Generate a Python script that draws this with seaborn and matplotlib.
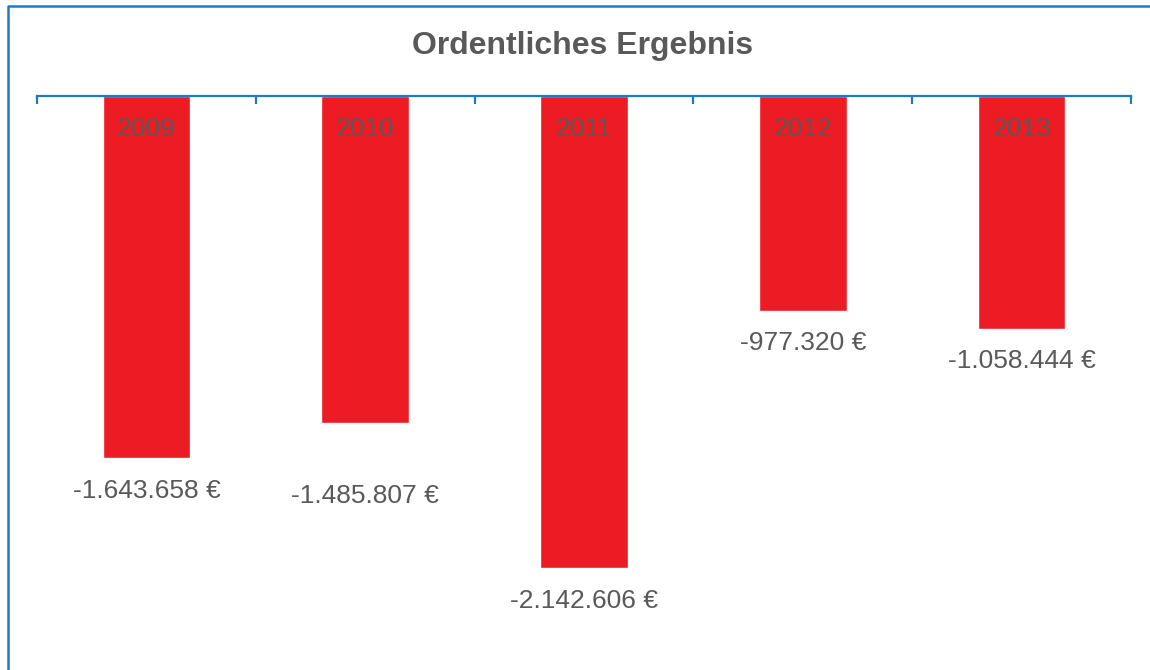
import matplotlib
matplotlib.use("Agg")
import matplotlib.pyplot as plt
import matplotlib.transforms as mtransforms
from matplotlib.lines import Line2D
import seaborn as sns
import pandas as pd

years = ["2009", "2010", "2011", "2012", "2013"]
values = [-1643658, -1485807, -2142606, -977320, -1058444]
value_labels = ["-1.643.658 €", "-1.485.807 €", "-2.142.606 €", "-977.320 €", "-1.058.444 €"]
title = "Ordentliches Ergebnis"

# layout: vertical offset (points) of each value label below its bar end
label_offsets = [-23.5, -52, -23.5, -23, -23]

sns.set_theme(style="white")
plt.rcParams["font.family"] = ["Liberation Sans", "DejaVu Sans"]

BLUE = "#1B7BC6"
RED = "#ED1C24"
GREY = "#595959"

df = pd.DataFrame({"year": years, "value": values})

fig = plt.figure(figsize=(11.5, 6.7), dpi=100)
ax = fig.add_axes([37 / 1150, 1 - 647 / 670, (1131 - 37) / 1150, (647 - 96) / 670])

sns.barplot(data=df, x="year", y="value", order=years, color=RED,
            saturation=1, width=0.4, ax=ax)

ax.set_xlim(-0.5, len(years) - 0.5)
ax.set_ylim(-2500000, 0)
ax.set_xlabel("")
ax.set_ylabel("")
ax.set_yticks([])

for s in ["left", "right", "bottom"]:
    ax.spines[s].set_visible(False)
ax.spines["top"].set_visible(True)
ax.spines["top"].set_color(BLUE)
ax.spines["top"].set_linewidth(1.6)
ax.spines["top"].set_zorder(5)

ax.xaxis.set_ticks_position("top")
ax.set_xticks([i for i in range(len(years))])
ax.set_xticklabels([])
ax.tick_params(axis="x", which="major", length=0)
ax.set_xticks([i - 0.5 for i in range(len(years) + 1)], minor=True)
ax.tick_params(axis="x", which="minor", direction="in", length=5.5, width=1.6,
               color=BLUE, top=True, bottom=False)

# category labels inside bars
trans = mtransforms.blended_transform_factory(ax.transData, ax.transAxes)
off = mtransforms.ScaledTranslation(0, -33 / 100, fig.dpi_scale_trans)
for i, y in enumerate(years):
    ax.text(i, 1.0, y, transform=trans + off, ha="center", va="center",
            fontsize=19, color=GREY, zorder=6)

# value labels below bars
for i, (v, lab) in enumerate(zip(values, value_labels)):
    ax.annotate(lab, xy=(i, v), xytext=(0, label_offsets[i]), textcoords="offset points",
                ha="center", va="center", fontsize=19, color=GREY)

fig.text(583 / 1150, 1 - 46 / 670, title, ha="center", va="center",
         fontsize=23, fontweight="bold", color=GREY)

# outer frame (left and top edges visible)
x0 = 7.5 / 1150
y0 = 1 - 5.5 / 670
fig.add_artist(Line2D([x0, x0, 1.0], [0.0, y0, y0], color=BLUE, linewidth=1.8,
                      transform=fig.transFigure))

fig.savefig("out.png", dpi=100)
